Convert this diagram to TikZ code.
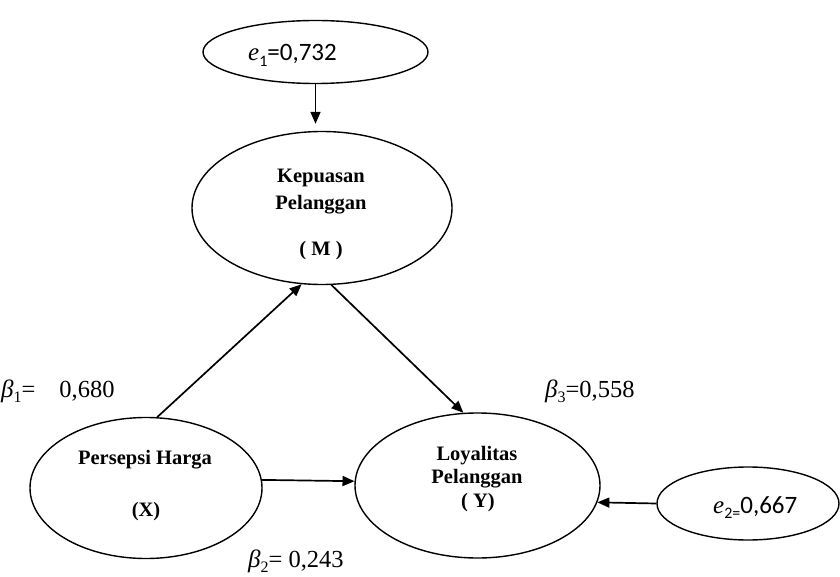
\RequirePackage{fix-cm}
\documentclass[tikz,border=0pt]{standalone}
\usepackage{fontspec}
\setmainfont{Liberation Serif}
\newfontfamily\calibri{Carlito}
\usetikzlibrary{shapes.geometric,arrows.meta}
\newcommand{\sym}[2]{{\rmfamily\itshape\fontsize{25}{26}\selectfont #1}\raisebox{-0.22em}{\fontsize{16}{16}\selectfont #2}}
\begin{document}
\begin{tikzpicture}[x=1pt,y=-1pt,
  oval/.style={draw,ellipse,line width=1.4pt,inner sep=0pt},
  bl/.style={font=\fontsize{20.5}{22}\selectfont\bfseries,anchor=base,inner sep=0pt},
  coef/.style={font=\fontsize{24.5}{26}\selectfont,anchor=base west,inner sep=0pt},
  err/.style={font=\calibri\fontsize{25}{26}\selectfont,anchor=base west,inner sep=0pt},
  arr/.style={line width=1.7pt,-{Triangle[length=12pt,width=10pt]}}]
\useasboundingbox (0,0) rectangle (840,577);
% ellipses
\node[oval,minimum width=225pt,minimum height=63pt] (e1) at (315.5,52) {};
\node[oval,minimum width=260pt,minimum height=153pt] (M) at (322,208) {};
\node[oval,minimum width=232pt,minimum height=141pt] (X) at (146,488) {};
\node[oval,minimum width=245pt,minimum height=145pt] (Y) at (477.5,485.5) {};
\node[oval,minimum width=182pt,minimum height=73pt] (e2) at (748,503.5) {};
% texts
\node[err] (te1) at (248,61) {\sym{e}{1}=0,732};
\node[err] (te2) at (713,513) {\sym{e}{2=}0,667};
\node[bl] (m1) at (321,183) {Kepuasan};
\node[bl] (m2) at (321,210) {Pelanggan};
\node[bl] (m3) at (321,256) {( M )};
\node[bl] (x1) at (145,464) {Persepsi Harga};
\node[bl] (x2) at (146,516) {(X)};
\node[bl] (y1) at (477,460) {Loyalitas};
\node[bl] (y2) at (477,483) {Pelanggan};
\node[bl] (y3) at (478,507) {( Y)};
\node[coef] (b1) at (1,397) {\sym{β}{1}=\hspace{24pt}0,680};
\node[coef] (b3) at (545,397) {\sym{β}{3}=0,558};
\node[coef] (b2) at (248,567) {\sym{β}{2}= 0,243};
% connectors
\draw[arr,shorten >=7pt] (e1.south) -- (e1.south |- M.north);
\draw[arr] (X.81) -- (M.255);
\draw[arr] (M.277) -- (Y.101);
\draw[arr] (X.4) -- (Y.178);
\draw[arr] (e2.west) -- (Y.352);
\end{tikzpicture}
\end{document}
